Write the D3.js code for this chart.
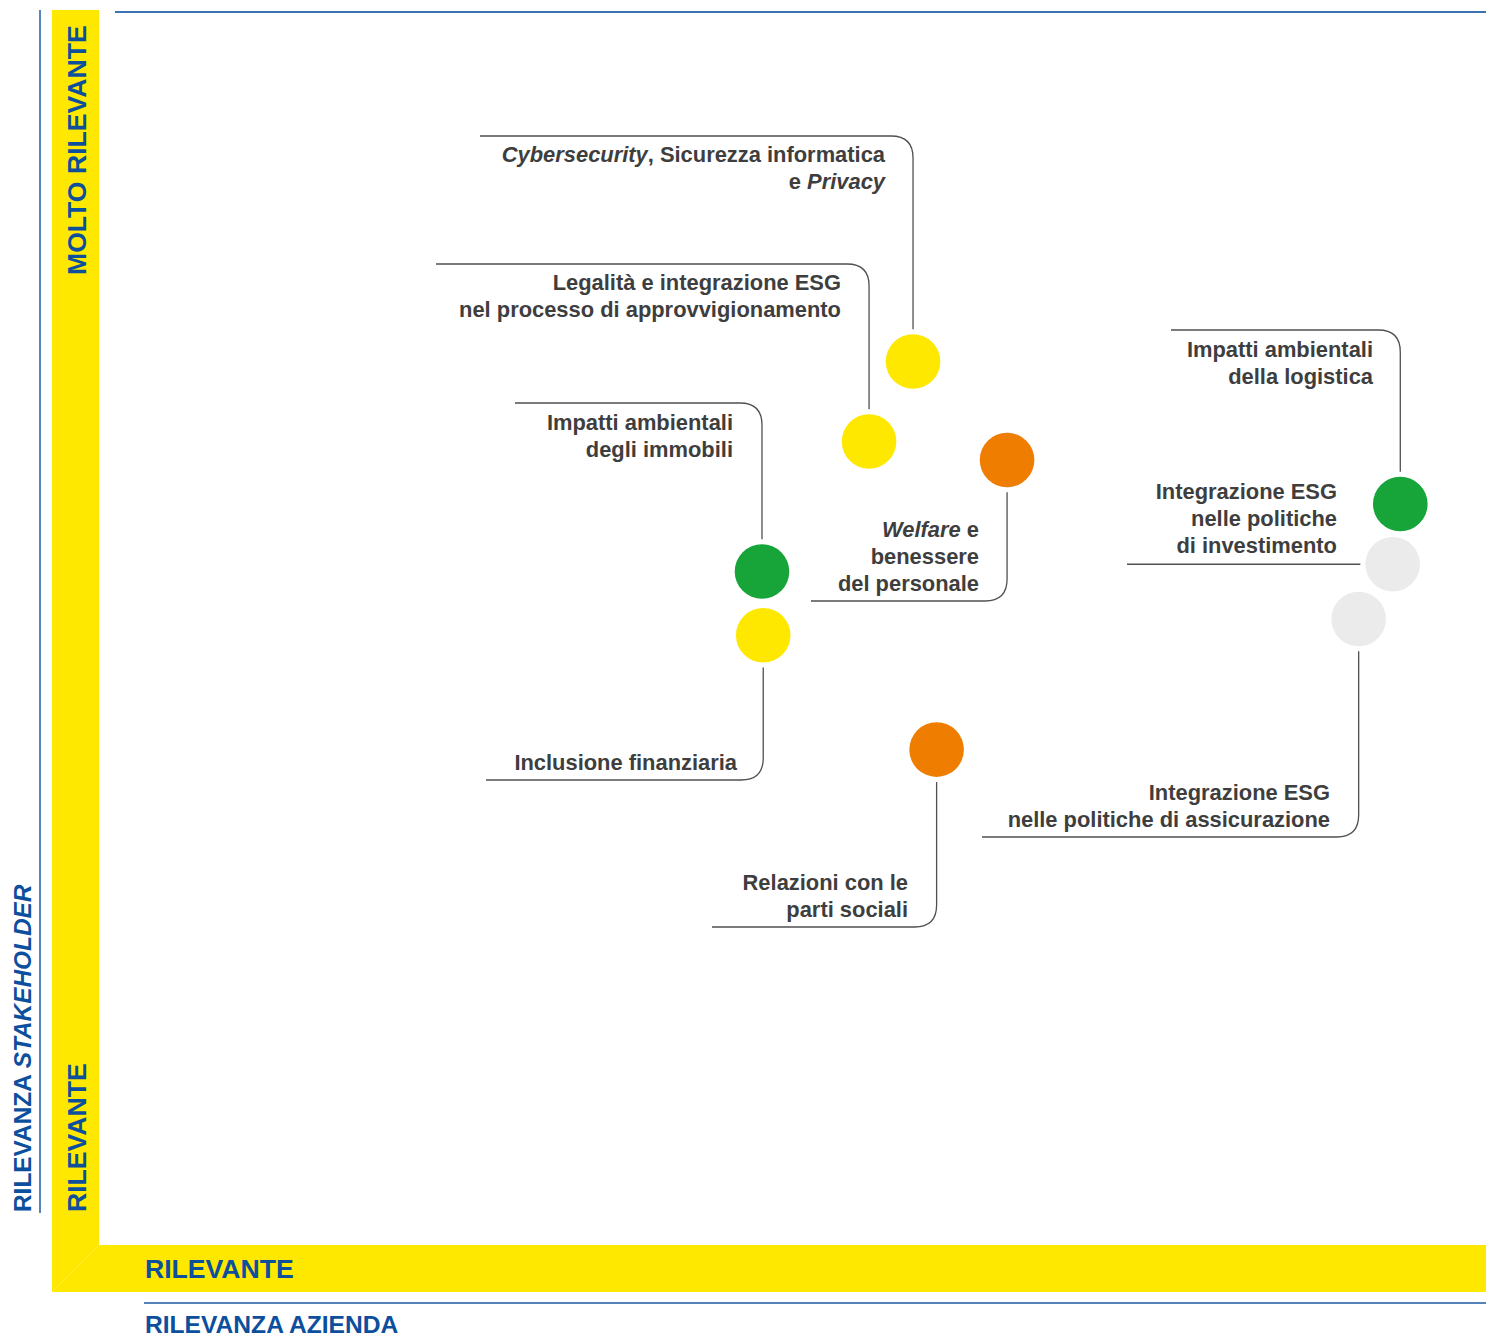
<!DOCTYPE html>
<html>
<head>
<meta charset="utf-8">
<script src="https://cdn.jsdelivr.net/npm/d3@7"></script>
<style>
  html, body { margin: 0; padding: 0; background: #fff; }
  svg { display: block; }
</style>
</head>
<body>
<svg id="chart" width="1486" height="1338"></svg>
<script>
// ---- Data ----
const topics = [
  "Cybersecurity, Sicurezza informatica e Privacy",
  "Legalità e integrazione ESG nel processo di approvvigionamento",
  "Welfare e benessere del personale",
  "Impatti ambientali degli immobili",
  "Inclusione finanziaria",
  "Relazioni con le parti sociali",
  "Impatti ambientali della logistica",
  "Integrazione ESG nelle politiche di investimento",
  "Integrazione ESG nelle politiche di assicurazione"
];
// label lines (text between * is italic)
const topicLines = [
  ["*Cybersecurity*, Sicurezza informatica", "e *Privacy*"],
  ["Legalità e integrazione ESG", "nel processo di approvvigionamento"],
  ["*Welfare* e", "benessere", "del personale"],
  ["Impatti ambientali", "degli immobili"],
  ["Inclusione finanziaria"],
  ["Relazioni con le", "parti sociali"],
  ["Impatti ambientali", "della logistica"],
  ["Integrazione ESG", "nelle politiche", "di investimento"],
  ["Integrazione ESG", "nelle politiche di assicurazione"]
];
const rilevanzaAzienda     = [58.69, 55.52, 65.47, 47.80, 47.89, 60.39, 93.82, 93.27, 90.82];
const rilevanzaStakeholder = [71.65, 65.17, 63.67, 54.62, 49.45, 40.18, 60.10, 55.21, 50.77];
const colorGroup = ["giallo", "giallo", "arancione", "verde", "giallo", "arancione", "verde", "grigio", "grigio"];

const axisTitleX = "RILEVANZA AZIENDA";
const axisTitleY = ["RILEVANZA ", "STAKEHOLDER"];
const axisLevelsX = ["RILEVANTE"];
const axisLevelsY = ["RILEVANTE", "MOLTO RILEVANTE"];

// ---- Layout (annotation placement) ----
const labelLayout = [
  {type: "up",   elbowY: 136, endX: 480,  textX: 885,  textY: 162},
  {type: "up",   elbowY: 264, endX: 436,  textX: 841,  textY: 290},
  {type: "down", elbowY: 601, endX: 811,  textX: 979,  textY: 537},
  {type: "up",   elbowY: 403, endX: 515,  textX: 733,  textY: 430},
  {type: "down", elbowY: 780, endX: 486,  textX: 737,  textY: 770},
  {type: "down", elbowY: 927, endX: 712,  textX: 908,  textY: 890},
  {type: "up",   elbowY: 330, endX: 1171, textX: 1373, textY: 357},
  {type: "left",              endX: 1127, textX: 1337, textY: 499},
  {type: "down", elbowY: 837, endX: 982,  textX: 1330, textY: 800}
];

const plot = {left: 99, right: 1486, top: 12, bottom: 1245};
const x = d3.scaleLinear().domain([0, 100]).range([plot.left, plot.right]);
const y = d3.scaleLinear().domain([0, 100]).range([plot.bottom, plot.top]);
const color = d3.scaleOrdinal()
  .domain(["giallo", "arancione", "verde", "grigio"])
  .range(["#FFE800", "#EF7D00", "#17A53A", "#EBEBEB"]);

const svg = d3.select("#chart");
const BLUE = "#0C4F9C";
const YELLOW = "#FFE800";
const FONT = "'Liberation Sans', Arial, Helvetica, sans-serif";

// yellow bands (mitred corner)
svg.append("path")
  .attr("d", `M52,10 L99,10 L99,1245 L52,1292 Z`)
  .attr("fill", YELLOW);
svg.append("path")
  .attr("d", `M52,1292 L99,1245 L1486,1245 L1486,1292 Z`)
  .attr("fill", YELLOW);

// blue guide lines
svg.append("line").attr("x1", 40).attr("x2", 40).attr("y1", 10).attr("y2", 1213)
  .attr("stroke", "#1E5BA3").attr("stroke-width", 1.5);
svg.append("line").attr("x1", 115).attr("x2", 1486).attr("y1", 12).attr("y2", 12)
  .attr("stroke", "#3A73B2").attr("stroke-width", 2);
svg.append("line").attr("x1", 144).attr("x2", 1486).attr("y1", 1303).attr("y2", 1303)
  .attr("stroke", "#1E5BA3").attr("stroke-width", 1.5);

// axis level labels in bands
const bandText = (txt, tx, ty, rot, size) => svg.append("text")
  .attr("transform", `translate(${tx},${ty}) rotate(${rot})`)
  .attr("font-family", FONT).attr("font-weight", "bold")
  .attr("font-size", size).attr("fill", BLUE).text(txt);

bandText(axisLevelsY[1], 86, 275, -90, 26.6);
bandText(axisLevelsY[0], 86, 1212, -90, 26.6);
bandText(axisLevelsX[0], 145, 1278, 0, 26.6);

// axis titles
svg.append("text")
  .attr("x", 145).attr("y", 1333)
  .attr("font-family", FONT).attr("font-weight", "bold")
  .attr("font-size", 24.6).attr("fill", BLUE).text(axisTitleX);

const yt = svg.append("text")
  .attr("transform", `translate(31,1212) rotate(-90)`)
  .attr("font-family", FONT).attr("font-weight", "bold")
  .attr("font-size", 24.4).attr("fill", BLUE);
yt.append("tspan").text(axisTitleY[0]);
yt.append("tspan").attr("font-style", "italic").text(axisTitleY[1]);

// data
const data = topics.map((t, i) => ({
  name: t, lines: topicLines[i],
  cx: x(rilevanzaAzienda[i]), cy: y(rilevanzaStakeholder[i]),
  group: colorGroup[i], layout: labelLayout[i]
}));

const R = 27.3, GAP = 5, CR = 22;

// leader lines
svg.append("g").selectAll("path").data(data).join("path")
  .attr("fill", "none").attr("stroke", "#505050").attr("stroke-width", 1.3)
  .attr("d", d => {
    const L = d.layout;
    if (L.type === "up") {
      const y0 = d.cy - R - GAP;
      return `M${d.cx},${y0} L${d.cx},${L.elbowY + CR} Q${d.cx},${L.elbowY} ${d.cx - CR},${L.elbowY} L${L.endX},${L.elbowY}`;
    } else if (L.type === "down") {
      const y0 = d.cy + R + GAP;
      return `M${d.cx},${y0} L${d.cx},${L.elbowY - CR} Q${d.cx},${L.elbowY} ${d.cx - CR},${L.elbowY} L${L.endX},${L.elbowY}`;
    } else {
      const x0 = d.cx - R - GAP;
      return `M${x0},${d.cy} L${L.endX},${d.cy}`;
    }
  });

// circles
svg.append("g").selectAll("circle").data(data).join("circle")
  .attr("cx", d => d.cx).attr("cy", d => d.cy).attr("r", R)
  .attr("fill", d => color(d.group));

// labels
const lbl = svg.append("g").selectAll("text").data(data).join("text")
  .attr("font-family", FONT).attr("font-weight", "bold")
  .attr("font-size", 21.9).attr("fill", "#3E3E3E")
  .attr("text-anchor", "end");

lbl.each(function(d) {
  const t = d3.select(this);
  d.lines.forEach((line, li) => {
    const parts = line.split("*");
    let first = true;
    parts.forEach((p, pi) => {
      if (p === "") return;
      const ts = t.append("tspan").text(p);
      if (pi % 2 === 1) ts.attr("font-style", "italic");
      if (first) {
        ts.attr("x", d.layout.textX).attr("y", d.layout.textY + li * 27);
        first = false;
      }
    });
  });
});
</script>
</body>
</html>
